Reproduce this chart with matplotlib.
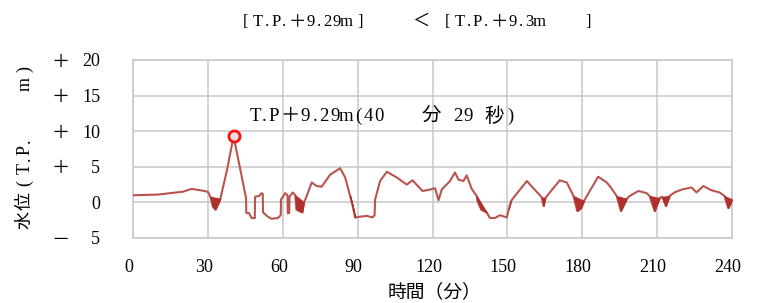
import unicodedata
import numpy as np
import matplotlib
matplotlib.use("Agg")
import matplotlib.pyplot as plt
import matplotlib.transforms as mtransforms

plt.rcParams['font.family'] = ['Liberation Serif', 'Noto Sans CJK JP', 'DejaVu Sans']

# ---- data ----
time_min = [0, 10, 20, 23.5, 27, 30, 31, 32, 33, 34, 35, 37.7, 40.3,
            45.3, 45.4, 46.5, 47.5, 48.8, 48.9, 50.5, 51.5, 52.0, 52.1, 54, 55.5, 58.0,
            59.2, 59.3, 61, 61.9, 62.0, 62.6, 62.7, 64, 65, 65.5, 67.8, 68.5, 69.5,
            71.6, 73.6, 75.6, 79, 83, 85, 87, 88, 89, 93.6, 96, 96.8, 97, 99, 101.7,
            105.7, 109.7, 112, 116, 119, 121, 122.4, 123.7, 127, 129, 130.4, 132.4,
            133.7, 135.7, 137.7, 138, 139.5, 141.7, 143, 145, 147, 149.8, 150.5, 151.5,
            153, 157.8, 163.8, 164.5, 165.2, 167, 171, 173.8, 176.5, 178, 179.5, 180.7,
            183, 186.4, 189.8, 191, 193.8, 195.5, 197.8, 199, 202.5, 205.8, 207, 209,
            211, 212, 213.5, 215, 217, 219.8, 223.8, 225.8, 228.5, 231.8, 235, 237,
            238.5, 239.6, 240]
level_m = [1.0, 1.1, 1.5, 1.9, 1.7, 1.5, 0.8, -0.6, -1.0, -0.3, 0.5, 4.6, 9.29,
           0.6, -1.5, -1.5, -2.2, -2.2, 0.8, 0.9, 1.3, 1.2, -1.4, -2.0, -2.3, -2.2,
           -1.8, 0.4, 1.3, 1.0, -1.5, -1.5, 0.8, 1.4, 1.0, -1.0, -1.4, 0.0, 0.8,
           2.8, 2.3, 2.2, 3.9, 4.8, 3.5, 0.9, -0.5, -2.1, -1.9, -2.1, -1.8, 0.4, 3.0, 4.3,
           3.5, 2.5, 3.1, 1.6, 1.8, 2.0, 0.3, 1.8, 3.0, 4.2, 3.2, 3.0,
           3.8, 1.9, 0.9, 0.2, -1.0, -1.4, -2.2, -2.2, -1.8, -2.1, -1.0, 0.2,
           0.9, 3.0, 0.7, -0.5, 0.6, 1.4, 3.1, 2.8, 0.9, -1.2, -0.8, 0.2,
           1.6, 3.6, 2.8, 2.3, 0.9, -1.2, 0.5, 0.9, 1.6, 1.3, 0.9, -1.2,
           0.6, 0.8, -0.5, 0.9, 1.4, 1.8, 2.1, 1.4, 2.3, 1.7, 1.4, 0.9,
           -0.8, 0.0, 0.4]
# intervals with dense oscillation (drawn as filled patches)
patch_start = [31, 65, 87, 137.7, 150, 163.8, 176.5, 193.8, 207, 212, 237]
patch_end = [35, 68.5, 89, 142, 152.5, 165.2, 180.7, 197.8, 211, 215, 240]

peak_time = 40.3
peak_level = 9.29

x_ticks = [0, 30, 60, 90, 120, 150, 180, 210, 240]
y_ticks = [-5, 0, 5, 10, 15, 20]
y_numbers = ['5', '0', '5', '10', '15', '20']
y_signs = ['－', '', '＋', '＋', '＋', '＋']

title_text = '［T.P.＋9.29m］     ＜ ［T.P.＋9.3m    ］'
peak_label = 'T.P＋9.29m(40   \u2009分 29 秒)'
x_label = '時間（分）'
y_label = '水位（T.P.     m）'

W, H = 758, 303

# ---- figure ----
fig = plt.figure(figsize=(W / 100, H / 100), dpi=100)
ax = fig.add_axes([133 / W, 1 - 238 / H, 599 / W, 178 / H])

# full-width brackets occupy a full-width cell but are drawn with a plain glyph
DISPLAY = {'［': '[', '］': ']', '（': '(', '）': ')'}
UNITS = {'\u2009': 0.5, 'm': 1.2}


def char_units(ch, dot):
    if ch == '.':
        return dot
    if ch in UNITS:
        return UNITS[ch]
    if unicodedata.east_asian_width(ch) in ('W', 'F'):
        return 2.0
    return 1.0


def fixed_pitch_text(start_px, across_px, s, unit, fs, dot=1.0, vertical=False,
                     cjk_fs=None, **kw):
    """Draw text one glyph per cell (fixed pitch like a Mincho font)."""
    pos = start_px
    for ch in s:
        w = char_units(ch, dot) * unit
        glyph = DISPLAY.get(ch, ch)
        size = fs
        if cjk_fs is not None and unicodedata.east_asian_width(glyph) in ('W', 'F'):
            size = cjk_fs
        if vertical:
            c = pos - w / 2
            pos -= w
            if glyph.strip():
                fig.text(across_px / W, 1 - c / H, glyph, rotation=90, fontsize=size,
                         ha='center', va='center', rotation_mode='anchor', **kw)
        else:
            c = pos + w / 2
            pos += w
            if glyph.strip():
                fig.text(c / W, 1 - across_px / H, glyph, fontsize=size,
                         ha='center', va='center', **kw)


line_color = '#b9554f'
fill_color = '#b0302c'

t = np.array(time_min, dtype=float)
y = np.array(level_m, dtype=float)

ax.plot(t, y, color=line_color, lw=1.5, zorder=3)

for s, e in zip(patch_start, patch_end):
    mask = (t >= s) & (t <= e)
    ts = t[mask]
    ys = y[mask]
    if len(ts) < 2:
        continue
    top = np.interp(ts, [ts[0], ts[-1]], [ys[0], ys[-1]])
    top = np.maximum(top, ys)
    ax.fill_between(ts, ys, top, color=fill_color, lw=0.8, edgecolor=fill_color, zorder=3)

ax.plot([peak_time], [peak_level], marker='o', ms=8, mfc='#eadede',
        mec='#ff1010', mew=2.0, zorder=5)

ax.set_xlim(0, 240)
ax.set_ylim(-5, 20)
ax.set_xticks(x_ticks)
ax.set_yticks(y_ticks)
ax.set_yticklabels(y_numbers)
ax.tick_params(axis='both', length=0, labelsize=13)
ax.tick_params(axis='x', pad=15)
ax.tick_params(axis='y', pad=23.5)
ax.grid(True, color='#c8c8c8', lw=1.1)
ax.set_axisbelow(True)
for sp in ax.spines.values():
    sp.set_color('#c8c8c8')
    sp.set_linewidth(1.1)

shift = mtransforms.ScaledTranslation(-4 / 100, 0, fig.dpi_scale_trans)
for lab in ax.get_xticklabels():
    lab.set_transform(lab.get_transform() + shift)

trans = mtransforms.blended_transform_factory(fig.transFigure, ax.transData)
for v, sg in zip(y_ticks, y_signs):
    if sg:
        ax.annotate(sg, xy=(61 / W, v), xycoords=trans, xytext=(0, -1.5),
                    textcoords='offset points', fontsize=13, ha='center', va='center')

# texts
fixed_pitch_text(236.5, 22, title_text, 8.7, 12, cjk_fs=12.5)
fixed_pitch_text(249.75, 116.5, peak_label, 10.5, 13.5, dot=0.8, cjk_fs=14, zorder=6)
fixed_pitch_text(229.0, 25, y_label, 9.3, 13, vertical=True)
fig.text(434 / W, 1 - 292 / H, x_label, fontsize=13.5, ha='center', va='center')

fig.savefig('out.png', dpi=100)
